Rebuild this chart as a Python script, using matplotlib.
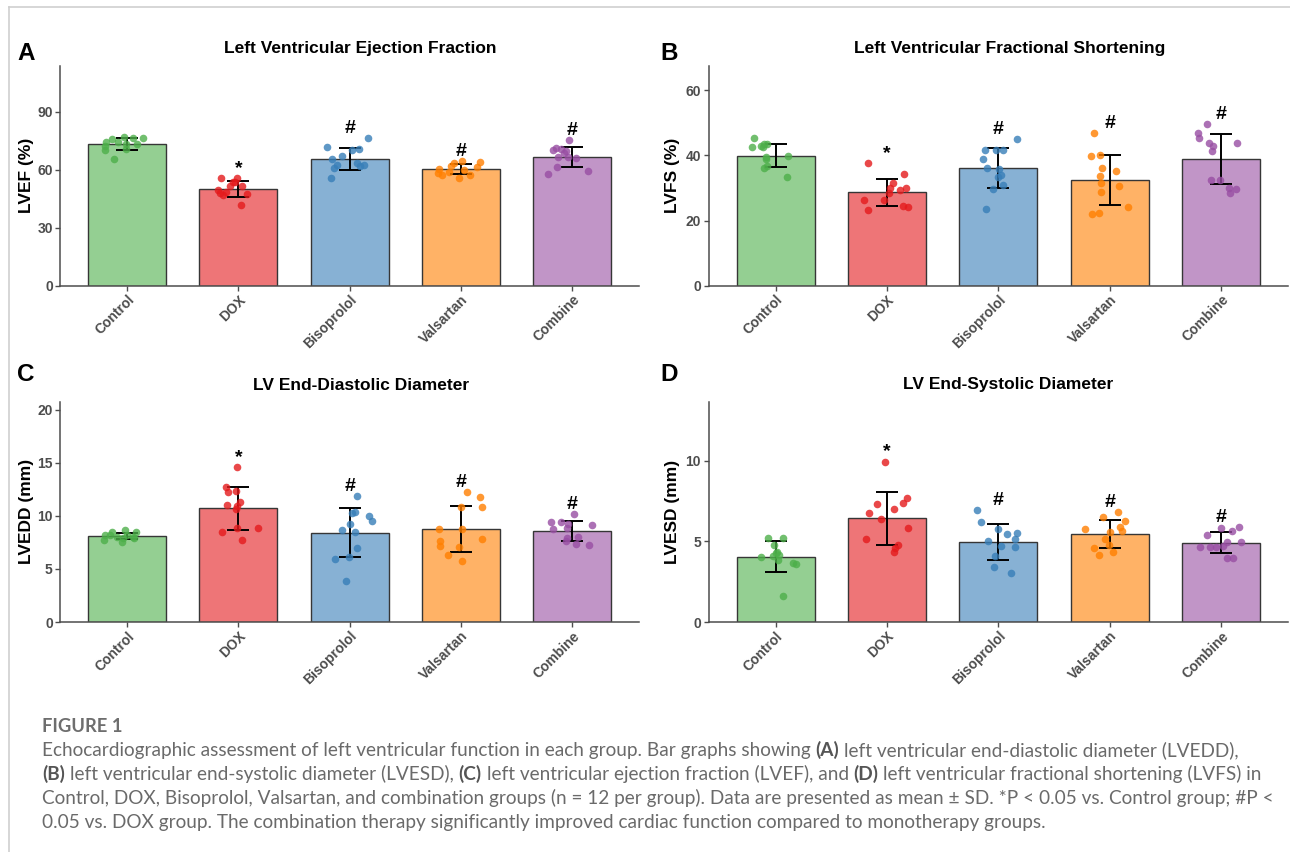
import matplotlib
matplotlib.use("Agg")
import matplotlib.pyplot as plt
import numpy as np
from matplotlib.colors import to_rgba
from matplotlib.lines import Line2D

W, H, DPI = 1290, 852, 100

groups = ["Control", "DOX", "Bisoprolol", "Valsartan", "Combine"]
colors = ["#4DAF4A", "#E41A1C", "#377EB8", "#FF7F00", "#984EA3"]
sig_marks = ["", "*", "#", "#", "#"]

# ---- LVEF (%) ----
lvef_mean = [73.2, 50.1, 65.6, 60.4, 66.6]
lvef_sd = [3.1, 4.3, 5.7, 2.8, 5.2]
lvef_points = [
    [74.6, 75.8, 77.2, 76.7, 76.7, 73.4, 73.2, 72.5, 70.3, 70.8, 65.6, 74.6],
    [55.6, 55.6, 53.6, 51.8, 51.8, 49.6, 48.2, 47.0, 47.5, 41.8, 53.6, 48.7],
    [71.7, 67.2, 70.2, 70.8, 76.5, 65.6, 62.5, 61.2, 63.4, 62.4, 62.2, 56.0],
    [60.5, 57.4, 62.2, 63.4, 64.6, 57.4, 56.0, 61.7, 64.3, 58.5, 59.1, 59.9],
    [75.5, 71.2, 70.7, 68.6, 66.8, 66.0, 61.7, 57.7, 59.6, 66.8, 69.8, 70.5],
]
lvef_jitter = [
    [-0.19, -0.14, -0.03, 0.05, 0.14, 0.09, -0.01, -0.20, -0.20, -0.01, -0.12, -0.08],
    [-0.16, -0.01, -0.03, -0.08, 0.03, -0.18, -0.17, -0.14, 0.08, 0.02, -0.05, -0.11],
    [-0.20, -0.07, 0.02, 0.08, 0.16, -0.16, -0.11, -0.14, 0.07, 0.13, 0.09, -0.17],
    [-0.20, -0.17, -0.09, -0.06, 0.01, 0.08, -0.02, 0.14, 0.17, -0.21, -0.11, 0.03],
    [-0.03, -0.15, -0.10, -0.07, -0.04, 0.03, -0.14, -0.22, 0.14, -0.13, -0.06, -0.17],
]

# ---- LVFS (%) ----
lvfs_mean = [39.9, 28.6, 36.1, 32.5, 38.8]
lvfs_sd = [3.6, 4.2, 6.2, 7.7, 7.6]
lvfs_points = [
    [45.4, 42.6, 42.9, 43.4, 43.4, 39.6, 38.8, 36.0, 36.7, 39.8, 33.4, 42.6],
    [37.5, 34.3, 31.6, 29.9, 28.3, 26.3, 26.3, 23.2, 29.4, 29.9, 24.4, 24.2],
    [44.9, 41.6, 41.6, 41.6, 38.9, 36.2, 35.7, 34.0, 30.9, 29.6, 23.4, 33.5],
    [46.9, 39.8, 40.1, 36.0, 35.3, 33.6, 31.4, 30.6, 28.8, 24.0, 22.0, 22.2],
    [49.5, 46.7, 45.2, 43.7, 42.9, 41.3, 43.9, 32.4, 32.4, 29.9, 29.6, 28.5],
]
lvfs_jitter = [
    [-0.19, -0.21, -0.13, -0.10, -0.08, -0.09, -0.09, -0.10, -0.08, 0.11, 0.10, -0.11],
    [-0.17, 0.15, 0.05, 0.03, 0.02, -0.03, -0.21, -0.17, 0.12, 0.17, 0.14, 0.19],
    [0.17, -0.12, -0.02, 0.04, -0.14, -0.10, 0.01, 0.02, 0.04, -0.05, -0.11, 0.00],
    [-0.14, -0.17, -0.09, -0.07, 0.06, -0.09, -0.08, 0.08, -0.08, 0.16, -0.16, -0.10],
    [-0.13, -0.21, -0.20, -0.11, -0.07, -0.08, 0.14, -0.09, -0.01, 0.07, 0.13, 0.08],
]

# ---- LVEDD (mm) ----
lvedd_mean = [8.10, 10.70, 8.40, 8.73, 8.60]
lvedd_sd = [0.30, 2.05, 2.30, 2.15, 0.95]
lvedd_points = [
    [7.74, 8.20, 8.43, 8.05, 7.52, 8.68, 8.20, 8.05, 8.52, 7.95, 7.89, 8.20],
    [14.56, 12.70, 12.36, 12.20, 11.04, 10.97, 10.63, 8.84, 8.46, 8.84, 7.74, 11.30],
    [11.89, 10.31, 10.34, 9.94, 9.56, 9.21, 8.62, 8.52, 7.01, 5.91, 6.16, 3.87],
    [12.23, 11.82, 10.79, 10.82, 8.74, 8.74, 7.83, 7.67, 7.17, 7.04, 6.32, 5.79],
    [10.19, 9.46, 9.46, 9.21, 9.09, 8.74, 8.84, 7.89, 7.99, 7.67, 7.36, 7.23],
]
lvedd_jitter = [
    [-0.21, -0.20, -0.14, -0.09, -0.05, -0.02, 0.00, 0.05, 0.08, 0.06, -0.04, -0.15],
    [-0.01, -0.11, -0.02, -0.09, -0.10, -0.01, -0.02, -0.01, -0.15, 0.18, 0.03, 0.01],
    [0.07, 0.02, 0.05, 0.17, 0.20, 0.00, -0.07, 0.05, 0.07, -0.13, -0.01, -0.03],
    [0.05, 0.17, 0.19, 0.00, -0.20, 0.01, 0.19, -0.19, -0.19, -0.02, -0.12, 0.01],
    [0.02, -0.19, -0.10, -0.04, 0.18, -0.17, -0.05, -0.05, 0.05, -0.06, 0.03, 0.15],
]

# ---- LVESD (mm) ----
lvesd_mean = [4.03, 6.42, 4.98, 5.43, 4.90]
lvesd_sd = [0.96, 1.62, 1.12, 0.86, 0.65]
lvesd_points = [
    [5.19, 5.23, 4.77, 4.36, 4.15, 4.09, 4.05, 3.84, 3.68, 3.60, 1.61, 4.26],
    [9.94, 7.71, 7.40, 7.30, 6.99, 6.74, 6.39, 5.81, 5.13, 4.77, 4.57, 4.36],
    [6.94, 6.22, 5.74, 5.43, 5.50, 5.13, 5.02, 4.71, 4.67, 4.09, 3.43, 3.06],
    [6.84, 6.49, 6.28, 5.77, 5.87, 5.64, 5.60, 5.13, 4.57, 4.77, 4.36, 4.15],
    [5.81, 5.66, 5.87, 5.39, 4.98, 4.98, 4.67, 4.71, 4.63, 4.67, 3.99, 3.95],
]
lvesd_jitter = [
    [-0.07, 0.07, -0.01, 0.01, 0.03, -0.02, -0.13, 0.02, 0.16, 0.18, 0.07, 0.00],
    [-0.02, 0.18, 0.14, -0.09, 0.06, -0.16, -0.05, 0.19, -0.19, 0.10, 0.07, 0.06],
    [-0.19, -0.16, 0.00, 0.08, 0.17, 0.15, -0.09, 0.02, 0.15, -0.03, -0.04, 0.11],
    [0.07, -0.06, 0.14, -0.22, 0.09, 0.11, 0.00, -0.04, -0.14, -0.01, 0.03, -0.10],
    [0.00, 0.10, 0.16, -0.13, 0.05, 0.18, -0.05, 0.02, -0.19, -0.10, 0.11, 0.05],
]

plt.rcParams["font.family"] = ["Liberation Sans", "DejaVu Sans"]

fig = plt.figure(figsize=(W / DPI, H / DPI), dpi=DPI)
fig.patch.set_facecolor("white")

AXIS_GRAY = "#4D4D4D"


def fx(px):
    return px / W


def fy(py):
    return 1 - py / H


def draw_panel(rect, means, sds, points, jitter, ytop, yticks,
               ylabel, title, letter, title_xy, letter_xy, ylabel_x):
    left, top, right, bottom = rect
    ax = fig.add_axes([fx(left), fy(bottom), (right - left) / W, (bottom - top) / H])
    x = np.arange(len(groups))
    ax.bar(x, means, width=0.7, color=[to_rgba(c, 0.6) for c in colors],
           edgecolor="#363636", linewidth=1.0, zorder=1)
    ax.errorbar(x, means, yerr=sds, fmt="none", ecolor="black",
                elinewidth=1.4, capsize=8, capthick=1.4, zorder=2)
    for i in range(len(groups)):
        ax.scatter(x[i] + np.asarray(jitter[i]), points[i], s=30,
                   color=colors[i], alpha=0.8, linewidths=0, zorder=3)
        if sig_marks[i]:
            ax.annotate(sig_marks[i], (x[i], max(points[i])), xytext=(0, 3.6),
                        textcoords="offset points", ha="center", va="baseline",
                        fontsize=14, fontweight="bold", color="black", zorder=4)
    ax.set_xlim(-0.6, len(groups) - 0.4)
    ax.set_ylim(0, ytop)
    ax.set_yticks(yticks)
    ax.set_xticks(x)
    ax.set_xticklabels(groups, rotation=45, ha="right", va="top",
                       rotation_mode="anchor")
    for lab in ax.get_xticklabels() + ax.get_yticklabels():
        lab.set_fontweight("bold")
    for s in ("top", "right"):
        ax.spines[s].set_visible(False)
    for s in ("left", "bottom"):
        ax.spines[s].set_color(AXIS_GRAY)
        ax.spines[s].set_linewidth(1.1)
    ax.tick_params(axis="both", length=3.5, width=1.0, color=AXIS_GRAY,
                   labelsize=10, labelcolor=AXIS_GRAY, pad=2)
    ax.tick_params(axis="x", pad=1.5)
    ax.set_ylabel(ylabel, fontsize=12.5, fontweight="bold", color="black",
                  va="center")
    ax.yaxis.set_label_coords((ylabel_x - left) / (right - left), 0.5)
    fig.text(fx(title_xy[0]), fy(title_xy[1]), title, ha="center", va="center",
             fontsize=12.5, fontweight="bold", color="black")
    fig.text(fx(letter_xy[0]), fy(letter_xy[1]), letter, ha="left", va="baseline",
             fontsize=17.5, fontweight="bold", color="black")
    return ax


draw_panel((60.4, 66, 639, 285.7), lvef_mean, lvef_sd, lvef_points, lvef_jitter,
           113.8, [0, 30, 60, 90], "LVEF (%)", "Left Ventricular Ejection Fraction",
           "A", (360, 48.3), (17, 60), 26.5)
draw_panel((708.7, 66, 1288, 285.7), lvfs_mean, lvfs_sd, lvfs_points, lvfs_jitter,
           67.4, [0, 20, 40, 60], "LVFS (%)", "Left Ventricular Fractional Shortening",
           "B", (1009.5, 48.3), (660, 60), 673)
draw_panel((60.4, 401.7, 639, 622), lvedd_mean, lvedd_sd, lvedd_points, lvedd_jitter,
           20.75, [0, 5, 10, 15, 20], "LVEDD (mm)", "LV End-Diastolic Diameter",
           "C", (361, 385), (17, 381), 26.5)
draw_panel((708.7, 401.7, 1288, 622), lvesd_mean, lvesd_sd, lvesd_points, lvesd_jitter,
           13.65, [0, 5, 10], "LVESD (mm)", "LV End-Systolic Diameter",
           "D", (1008.6, 385), (660, 381), 673)

# ---- figure frame ----
frame_kw = dict(color="#CFCFCF", linewidth=1.2, transform=fig.transFigure)
fig.add_artist(Line2D([fx(9), 1], [fy(7), fy(7)], **frame_kw))
fig.add_artist(Line2D([fx(9), fx(9)], [fy(7), 0], **frame_kw))

# ---- caption ----
CAP_FONT = ["Lato", "DejaVu Sans"]
CAP_COLOR = "#6A6A6A"
CAP_X = 42

fig.text(fx(CAP_X), fy(732.5), "FIGURE 1", family=CAP_FONT, fontweight="bold",
         fontsize=13.2, color="#6E6E6E", ha="left", va="baseline")

caption_lines = [
    [("Echocardiographic assessment of left ventricular function in each group. "
      "Bar graphs showing", False), ("(A)", True),
     ("left ventricular end-diastolic diameter (LVEDD),", False)],
    [("(B)", True), ("left ventricular end-systolic diameter (LVESD),", False),
     ("(C)", True), ("left ventricular ejection fraction (LVEF), and", False),
     ("(D)", True), ("left ventricular fractional shortening (LVFS) in", False)],
    [("Control, DOX, Bisoprolol, Valsartan, and combination groups (n = 12 per group). "
      "Data are presented as mean \u00b1 SD. *P < 0.05 vs. Control group; #P <", False)],
    [("0.05 vs. DOX group. The combination therapy significantly improved cardiac "
      "function compared to monotherapy groups.", False)],
]
caption_baselines = [756, 780, 804, 828]

renderer = fig.canvas.get_renderer()


def weight(bold):
    return "bold" if bold else "normal"


def text_width(s, size, bold):
    t = fig.text(0, 0, s, family=CAP_FONT, fontsize=size, fontweight=weight(bold))
    w = t.get_window_extent(renderer).width
    t.remove()
    return w


def line_width(segs, size):
    space = text_width("a a", size, False) - text_width("aa", size, False)
    return sum(text_width(s, size, b) for s, b in segs) + space * (len(segs) - 1)


# size the caption so the second line spans the text column
base = 11.5
cap_size = base * 1220.0 / line_width(caption_lines[1], base)

space_px = text_width("a a", cap_size, False) - text_width("aa", cap_size, False)
for segs, yb in zip(caption_lines, caption_baselines):
    xpos = CAP_X
    for s, b in segs:
        fig.text(fx(xpos), fy(yb), s, family=CAP_FONT, fontsize=cap_size,
                 fontweight=weight(b), color="#555555" if b else CAP_COLOR,
                 ha="left", va="baseline")
        xpos += text_width(s, cap_size, b) + space_px

fig.savefig("out.png", dpi=DPI, facecolor="white")
